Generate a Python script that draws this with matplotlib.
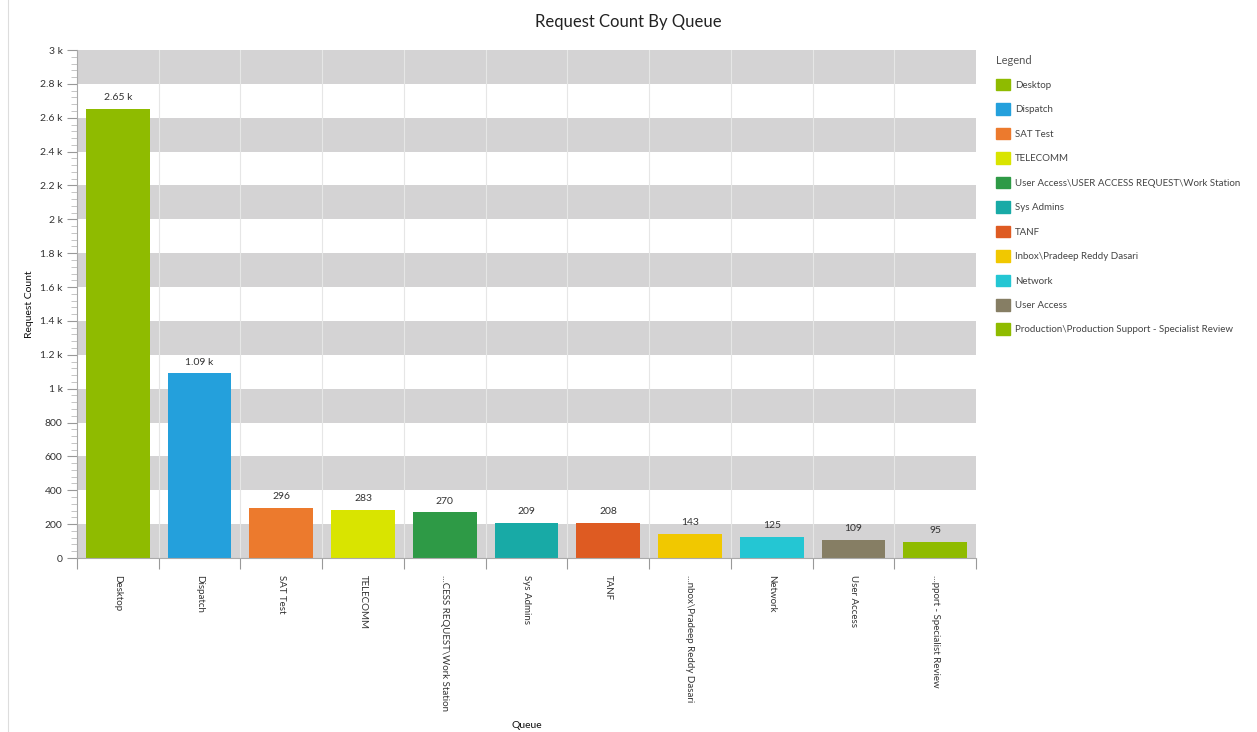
import matplotlib.pyplot as plt
import matplotlib.patches as mpatches
from matplotlib.ticker import FuncFormatter, MultipleLocator

plt.rcParams["font.family"] = ["Lato", "DejaVu Sans"]

# Data
queues = ["Desktop", "Dispatch", "SAT Test", "TELECOMM",
          "User Access\\USER ACCESS REQUEST\\Work Station", "Sys Admins", "TANF",
          "Inbox\\Pradeep Reddy Dasari", "Network", "User Access",
          "Production\\Production Support - Specialist Review"]
tick_labels = ["Desktop", "Dispatch", "SAT Test", "TELECOMM", "...CESS REQUEST\\Work Station",
               "Sys Admins", "TANF", "...nbox\\Pradeep Reddy Dasari", "Network", "User Access",
               "...pport - Specialist Review"]
counts = [2650, 1090, 296, 283, 270, 209, 208, 143, 125, 109, 95]
value_labels = ["2.65 k", "1.09 k", "296", "283", "270", "209", "208", "143", "125", "109", "95"]
colors = ["#8fbb00", "#24a0dc", "#ec7a2d", "#d9e400", "#2e9a46", "#18aaa6",
          "#de5b22", "#f1c800", "#24c6d3", "#867e64", "#8fbb00"]

fig = plt.figure(figsize=(12.57, 7.32), dpi=100)
ax = fig.add_axes([77 / 1257, 1 - 558 / 732, (976 - 77) / 1257, (558 - 50) / 732])

# alternating gray bands
for lo in range(0, 3000, 400):
    ax.axhspan(lo, lo + 200, color="#d4d3d4", zorder=0, lw=0)

x = list(range(len(queues)))
ax.bar(x, counts, width=0.78, color=colors, zorder=2)
for xi, c, lab in zip(x, counts, value_labels):
    ax.text(xi, c + 40, lab, ha="center", va="bottom", fontsize=7.5, color="#333333")

ax.set_xlim(-0.5, len(queues) - 0.5)
ax.set_ylim(0, 3000)

# vertical grid lines between categories
for b in range(1, len(queues)):
    ax.axvline(b - 0.5, color="#e6e6e6", lw=0.8, zorder=1)

ax.yaxis.set_major_locator(MultipleLocator(200))
ax.yaxis.set_minor_locator(MultipleLocator(40))
ax.yaxis.set_major_formatter(FuncFormatter(
    lambda v, p: "0" if v == 0 else (f"{v/1000:g} k" if v >= 1000 else f"{v:g}")))
ax.set_xticks([b - 0.5 for b in range(len(queues) + 1)], minor=False)
ax.set_xticklabels([])
ax.set_xticks(x, minor=True)
ax.set_xticklabels(tick_labels, minor=True, rotation=270, fontsize=7, color="#333333")
ax.tick_params(axis="x", which="minor", length=0, pad=12)
ax.tick_params(axis="x", which="major", length=8, color="#999999")
ax.tick_params(axis="y", which="major", length=7, color="#999999", labelsize=7.5, labelcolor="#333333")
ax.tick_params(axis="y", which="minor", length=4, color="#bbbbbb")

for s in ["top", "right"]:
    ax.spines[s].set_visible(False)
ax.spines["left"].set_color("#aaaaaa")
ax.spines["bottom"].set_color("#aaaaaa")

ax.set_ylabel("Request Count", fontsize=7.5, color="#111111")
ax.set_xlabel("Queue", fontsize=7.5, color="#111111")
ax.xaxis.set_label_coords(0.5, -0.32)
fig.text(0.5, 1 - 22 / 732, "Request Count By Queue", ha="center", va="center",
         fontsize=12, color="#222222")

# page border line on the left
fig.add_artist(plt.Line2D([8 / 1257, 8 / 1257], [0, 1], color="#dddddd", lw=0.8))

handles = [mpatches.Patch(color=c, label=q) for c, q in zip(colors, queues)]
leg = fig.legend(handles=handles, loc="upper left", bbox_to_anchor=(989 / 1257, 1 - 48 / 732),
                 frameon=False, fontsize=7, title="Legend", title_fontsize=8,
                 alignment="left", handlelength=1.5, handleheight=1.45,
                 labelspacing=1.33, handletextpad=0.5, borderaxespad=0.3)
for t in leg.get_texts():
    t.set_color("#444444")
leg.get_title().set_color("#555555")

fig.savefig("out.png", dpi=100)
